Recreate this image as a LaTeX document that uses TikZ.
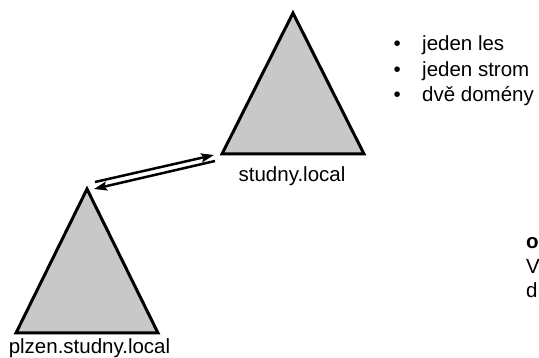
\documentclass[tikz,border=0pt]{standalone}
\usepackage{fontspec}
\setmainfont{Liberation Sans}
\usetikzlibrary{arrows.meta}
\definecolor{treegray}{RGB}{200,200,200}

\begin{document}
\begin{tikzpicture}[x = 1pt, y = 1pt,
                    domtri/.style = {draw = black, line width = 3pt, fill = treegray},
                    dnsname/.style = {font = \fontsize{20.5}{24}\selectfont, inner sep = 0pt, anchor = base},
                    item/.style = {font = \fontsize{20.5}{24}\selectfont, inner sep = 0pt, anchor = base west},
                    trust/.style = {line width = 2.5pt, -{Stealth[length = 13pt, width = 9pt, inset = 2.5pt]}}]
  \useasboundingbox (0, 0) rectangle (539, 358);

  \coordinate (RA) at (293, 345);
  \coordinate (RL) at (222, 204);
  \coordinate (RR) at (364, 204);
  \draw [domtri] (RA) -- (RL) -- (RR) -- cycle;
  \node [dnsname] (root) at (292, 176) {studny.local};

  \coordinate (CA) at (87, 169);
  \coordinate (CL) at (16, 25);
  \coordinate (CR) at (158, 25);
  \draw [domtri] (CA) -- (CL) -- (CR) -- cycle;
  \node [dnsname] (child) at (89.5, 4) {plzen.studny.local};

  \draw [trust] ([shift={(8, 7)}]CA) -- ([shift={(-8, -1)}]RL);
  \draw [trust] ([shift={(-7, -7)}]RL) -- ([shift={(7, 0)}]CA);

  \node [item] (B1) at (393.4, 307) {\textbullet};
  \node [item] (B2) at (393.4, 281) {\textbullet};
  \node [item] (B3) at (393.4, 256) {\textbullet};
  \node [item] (I1) at (422, 307) {jeden les};
  \node [item] (I2) at (422, 281) {jeden strom};
  \node [item] (I3) at (422, 256) {dvě domény};

  \node [item, font = \fontsize{20.5}{24}\selectfont\bfseries] (T1) at (526, 109) {o};
  \node [item] (T2) at (526, 84) {V};
  \node [item] (T3) at (526, 60) {d};
\end{tikzpicture}
\end{document}
